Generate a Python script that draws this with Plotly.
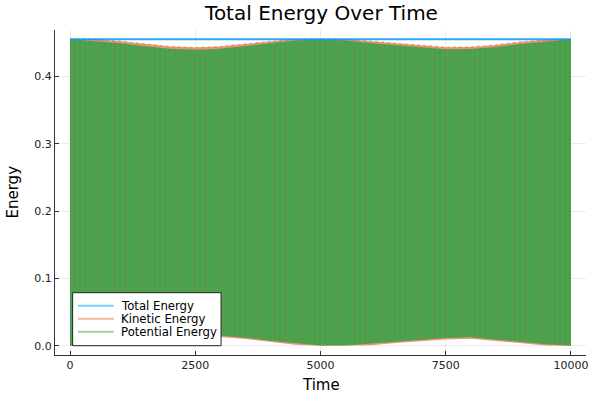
import plotly.graph_objects as go

# ---- data (envelopes of the densely oscillating series) ----
time_knots = [0, 500, 1000, 1500, 2000, 2500, 3000, 3500, 4000, 4500, 5000,
              5500, 6000, 6500, 7000, 7500, 8000, 8500, 9000, 9500, 10000]
total_energy = [0.455] * 21
kinetic_max = [0.455, 0.455, 0.452, 0.4475, 0.444, 0.4425, 0.444, 0.448, 0.452, 0.455, 0.455,
               0.455, 0.452, 0.449, 0.4455, 0.443, 0.4435, 0.4465, 0.451, 0.454, 0.455]
kinetic_min = [0.0, 0.001, 0.0045, 0.008, 0.011, 0.013, 0.013, 0.010, 0.0055, 0.0015, 0.0,
               0.0, 0.001, 0.004, 0.007, 0.0095, 0.0106, 0.0073, 0.0035, 0.0005, 0.0]
potential_max = [0.455, 0.4525, 0.449, 0.4445, 0.441, 0.4395, 0.441, 0.445, 0.4495, 0.453, 0.455,
                 0.453, 0.4495, 0.446, 0.4425, 0.440, 0.4405, 0.4435, 0.448, 0.452, 0.455]
potential_min = [0.0, 0.003, 0.0065, 0.010, 0.013, 0.015, 0.015, 0.012, 0.0075, 0.0035, 0.0005,
                 0.0005, 0.003, 0.006, 0.009, 0.0114, 0.0126, 0.0093, 0.0055, 0.0022, 0.0]
x_ticks = [0, 2500, 5000, 7500, 10000]
y_ticks = [0.0, 0.1, 0.2, 0.3, 0.4]
legend_names = ["Total Energy", "Kinetic Energy", "Potential Energy"]
legend_colors = ["rgba(0,154,250,0.5)", "rgba(227,111,71,0.5)", "rgba(62,164,78,0.5)"]

FONT = "DejaVu Sans"

fig = go.Figure()

# Kinetic energy band (orange)
fig.add_trace(go.Scatter(x=time_knots, y=kinetic_min, mode="lines", line=dict(width=0),
                         showlegend=False, hoverinfo="skip"))
fig.add_trace(go.Scatter(x=time_knots, y=kinetic_max, mode="lines",
                         line=dict(width=1.2, color="rgba(227,111,71,0.6)", dash="dot"),
                         fill="tonexty", fillcolor="rgba(227,111,71,0.75)",
                         name="Kinetic Energy", showlegend=False, hoverinfo="skip"))
# Potential energy band (green with orange stripes showing through)
fig.add_trace(go.Scatter(x=time_knots, y=potential_min, mode="lines", line=dict(width=0),
                         showlegend=False, hoverinfo="skip"))
fig.add_trace(go.Scatter(x=time_knots, y=potential_max, mode="lines", line=dict(width=0),
                         fill="tonexty", fillcolor="#47a24c",
                         fillpattern=dict(shape="|", size=5, solidity=0.25,
                                          fgcolor="rgba(200,120,80,0.55)", bgcolor="#45a34d"),
                         name="Potential Energy", showlegend=False, hoverinfo="skip"))
# Total energy line
fig.add_trace(go.Scatter(x=time_knots, y=total_energy, mode="lines",
                         line=dict(width=2, color="rgba(0,154,250,0.85)"),
                         name="Total Energy", showlegend=False))

axis_common = dict(showline=True, linecolor="#333333", linewidth=1, mirror=False,
                   showgrid=True, gridcolor="rgba(0,0,0,0.08)", gridwidth=0.5,
                   zeroline=False, ticks="inside", ticklen=4, tickcolor="#333333",
                   tickfont=dict(family=FONT, size=11, color="#222222"))

# legend drawn in paper coordinates (plot area: x 55..588 px, y 30..355 px)
PX0, PW, PY1, PH = 55, 533, 355, 325
def px(xp):
    return (xp - PX0) / PW
def py(yp):
    return (PY1 - yp) / PH

shapes = [dict(type="rect", xref="paper", yref="paper", layer="above",
               x0=px(72.7), x1=px(221.7), y0=py(345.7), y1=py(292.7),
               fillcolor="white", line=dict(color="#222222", width=1))]
annotations = []
for i, (nm, col) in enumerate(zip(legend_names, legend_colors)):
    yy = py(305.7 + 13 * i)
    shapes.append(dict(type="line", xref="paper", yref="paper", layer="above",
                       x0=px(78), x1=px(114), y0=yy, y1=yy,
                       line=dict(color=col, width=2)))
    annotations.append(dict(text=nm, xref="paper", yref="paper", x=px(119.5), y=yy,
                            xanchor="left", yanchor="middle", showarrow=False,
                            font=dict(family=FONT, size=11.7, color="black")))

annotations += [
    dict(text="Time", xref="paper", yref="paper", x=0.5, y=0, yshift=-30,
         xanchor="center", yanchor="middle", showarrow=False,
         font=dict(family=FONT, size=15, color="black")),
    dict(text="Energy", xref="paper", yref="paper", x=0, y=0.5, xshift=-43,
         xanchor="center", yanchor="middle", textangle=-90, showarrow=False,
         font=dict(family=FONT, size=15, color="black")),
]

fig.update_layout(
    width=600, height=400,
    margin=dict(l=55, r=12, t=30, b=45),
    paper_bgcolor="white", plot_bgcolor="white",
    font=dict(family=FONT, color="black"),
    showlegend=False,
    title=dict(text="Total Energy Over Time", x=(55 + 588) / 2 / 600, xanchor="center",
               y=1 - 13 / 400, yanchor="middle", yref="container",
               font=dict(family=FONT, size=20, color="black")),
    xaxis=dict(range=[-300, 10300], tickvals=x_ticks, ticktext=[str(v) for v in x_ticks],
               **axis_common),
    yaxis=dict(range=[-0.01365, 0.46865], tickvals=y_ticks,
               ticktext=[f"{v:.1f}" for v in y_ticks], **axis_common),
    shapes=shapes,
    annotations=annotations,
)

fig.write_html("out.html", post_script="document.body.style.margin='0px';",
               config={"displayModeBar": False})
